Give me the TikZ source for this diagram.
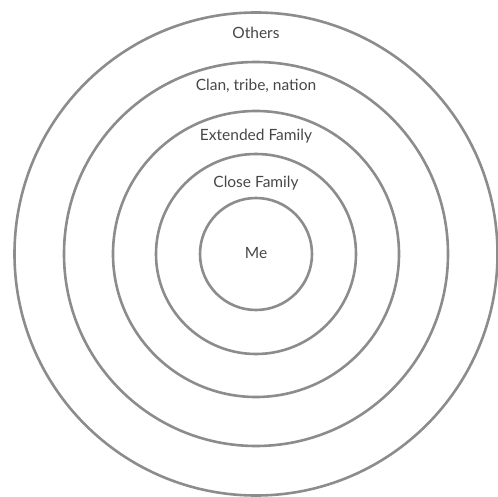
\documentclass[tikz,border=0pt]{standalone}
\usepackage{fontspec}
\setmainfont{Lato}
\begin{document}
\begin{tikzpicture}[x=1pt,y=1pt,
  ring/.style={draw=black!45, line width=2.6pt},
  lbl/.style={text=black!72, font=\fontsize{15.5}{18}\selectfont, inner sep=0pt}]
\useasboundingbox (0,0) rectangle (498,496);
\coordinate (c) at (256,242);
\draw[ring] (c) circle (241.5);
\draw[ring] (c) circle (192);
\draw[ring] (c) circle (143);
\draw[ring] (c) circle (100);
\draw[ring] (c) circle (56);
\node[lbl] (others) at (256,463) {Others};
\node[lbl] (clan) at (256,410) {Clan, tribe, nation};
\node[lbl] (ext) at (256,359.5) {Extended Family};
\node[lbl] (close) at (256,313) {Close Family};
\node[lbl] (me) at (256,243) {Me};
\end{tikzpicture}
\end{document}
